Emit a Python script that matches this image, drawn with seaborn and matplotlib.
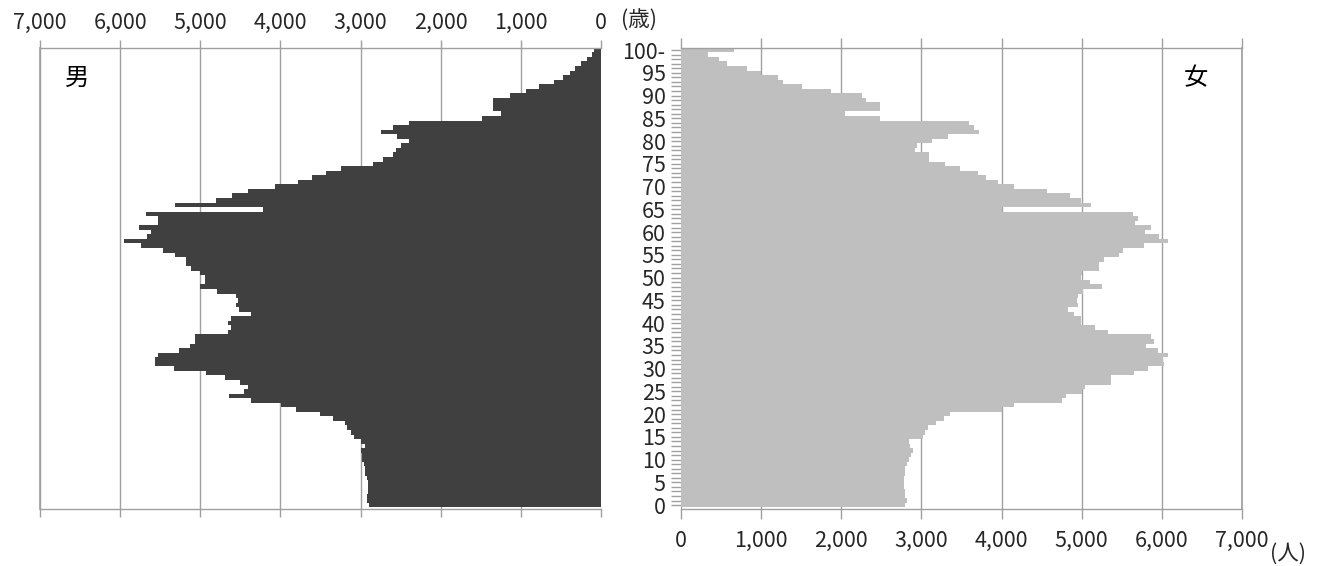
import matplotlib
matplotlib.use("Agg")
import matplotlib.pyplot as plt
from matplotlib.ticker import MultipleLocator
import pandas as pd
import seaborn as sns

# 年齢 (0〜100歳以上)
ages = list(range(0, 101))

# 男性人口 (0歳から100歳以上の順)
male = [2900, 2920, 2920, 2910, 2910, 2910, 2920, 2940, 2950, 2960,
        2980, 2980, 3000, 2950, 3000, 3080, 3120, 3170, 3200, 3350,
        3500, 3800, 3990, 4370, 4640, 4460, 4400, 4500, 4690, 4930,
        5330, 5570, 5570, 5530, 5270, 5130, 5060, 5060, 4650, 4620,
        4660, 4620, 4370, 4520, 4560, 4530, 4560, 4790, 5000, 4940,
        4940, 5000, 5110, 5180, 5180, 5320, 5460, 5740, 5950, 5660,
        5610, 5760, 5530, 5530, 5680, 4220, 5320, 4800, 4600, 4410,
        4070, 3780, 3600, 3430, 3250, 2850, 2720, 2600, 2560, 2500,
        2400, 2550, 2750, 2600, 2400, 1480, 1250, 1350, 1350, 1350,
        1140, 930, 770, 590, 470, 390, 325, 250, 170, 115,
        90]

# 女性人口
female = [2800, 2820, 2800, 2790, 2780, 2780, 2780, 2790, 2800, 2820,
          2850, 2870, 2900, 2860, 2840, 3020, 3050, 3080, 3180, 3280,
          3360, 4000, 4150, 4750, 4800, 5000, 5040, 5360, 5360, 5650,
          5830, 6030, 6020, 6080, 5950, 5800, 5900, 5860, 5330, 5170,
          4990, 4990, 4900, 4830, 4950, 4940, 4950, 5020, 5250, 5100,
          4990, 5000, 5220, 5220, 5280, 5470, 5520, 5780, 6080, 5970,
          5790, 5860, 5660, 5700, 5640, 4000, 5120, 4990, 4850, 4570,
          4150, 3960, 3810, 3700, 3480, 3300, 3090, 3100, 2920, 2950,
          3130, 3330, 3720, 3650, 3590, 2485, 2050, 2485, 2485, 2310,
          2260, 1875, 1510, 1270, 1210, 1000, 825, 580, 470, 340,
          660]

x_ticks = [0, 1000, 2000, 3000, 4000, 5000, 6000, 7000]
x_labels = ["0", "1,000", "2,000", "3,000", "4,000", "5,000", "6,000", "7,000"]
age_ticks = list(range(0, 101, 5))
age_labels = [str(a) for a in range(0, 100, 5)] + ["100-"]

df = pd.DataFrame({"age": ages, "male": male, "female": female})

sns.set_theme(style="white")
plt.rcParams["font.family"] = ["Noto Sans CJK JP", "DejaVu Sans"]

W, H = 1337, 566
fig = plt.figure(figsize=(W / 100, H / 100), dpi=100)
ax_m = fig.add_axes([40 / W, 57 / H, 561 / W, 461 / H])
ax_f = fig.add_axes([681 / W, 57 / H, 561 / W, 461 / H])

grid_c = "#a0a0a0"
text_c = "#262626"
fs = 15.5

sns.barplot(data=df, x="male", y="age", orient="y", native_scale=True,
            color="#404040", saturation=1, width=1, errorbar=None,
            linewidth=0, ax=ax_m)
sns.barplot(data=df, x="female", y="age", orient="y", native_scale=True,
            color="#bfbfbf", saturation=1, width=1, errorbar=None,
            linewidth=0, ax=ax_f)

for ax in (ax_m, ax_f):
    ax.set_ylim(-0.85, 100.45)
    ax.set_xlabel("")
    ax.set_ylabel("")
    ax.set_axisbelow(True)
    ax.grid(axis="x", color=grid_c, linewidth=1)
    ax.grid(axis="y", visible=False)
    ax.set_xticks(x_ticks)
    ax.set_xticklabels(x_labels)
    for s in ("top", "bottom"):
        ax.spines[s].set_visible(True)
        ax.spines[s].set_color(grid_c)
        ax.spines[s].set_linewidth(1)
    ax.xaxis.set_ticks_position("both")

# 男: 軸は右から左へ、目盛ラベルは上
ax_m.set_xlim(7000, 0)
ax_m.spines["right"].set_visible(False)
ax_m.spines["left"].set_visible(True)
ax_m.spines["left"].set_color(grid_c)
ax_m.tick_params(axis="x", direction="out", length=6, width=1, color=grid_c,
                 top=True, bottom=True, labeltop=True, labelbottom=False,
                 labelsize=fs, labelcolor=text_c, pad=4)
ax_m.set_yticks([])

# 女: 目盛ラベルは下、年齢ラベルは左
ax_f.set_xlim(0, 7000)
ax_f.spines["left"].set_visible(False)
ax_f.spines["right"].set_visible(True)
ax_f.spines["right"].set_color(grid_c)
ax_f.tick_params(axis="x", direction="out", length=7, width=1, color=grid_c,
                 top=True, bottom=True, labeltop=False, labelbottom=True,
                 labelsize=fs, labelcolor=text_c, pad=8)
ax_f.set_yticks(age_ticks)
ax_f.set_yticklabels(age_labels)
ax_f.yaxis.set_minor_locator(MultipleLocator(1))
ax_f.tick_params(axis="y", which="both", left=True, direction="out",
                 length=7, width=1, color=grid_c, labelsize=fs,
                 labelcolor=text_c, pad=4)

fig.text(77 / W, 1 - 78 / H, "男", fontsize=17.5, ha="center", va="center", color="black")
fig.text(1196 / W, 1 - 78 / H, "女", fontsize=17.5, ha="center", va="center", color="black")
fig.text(621 / W, 1 - 21 / H, "(歳)", fontsize=fs, ha="left", va="center", color=text_c)
fig.text(1270 / W, 1 - 554 / H, "(人)", fontsize=fs, ha="left", va="center", color=text_c)

fig.savefig("out.png", dpi=100)
